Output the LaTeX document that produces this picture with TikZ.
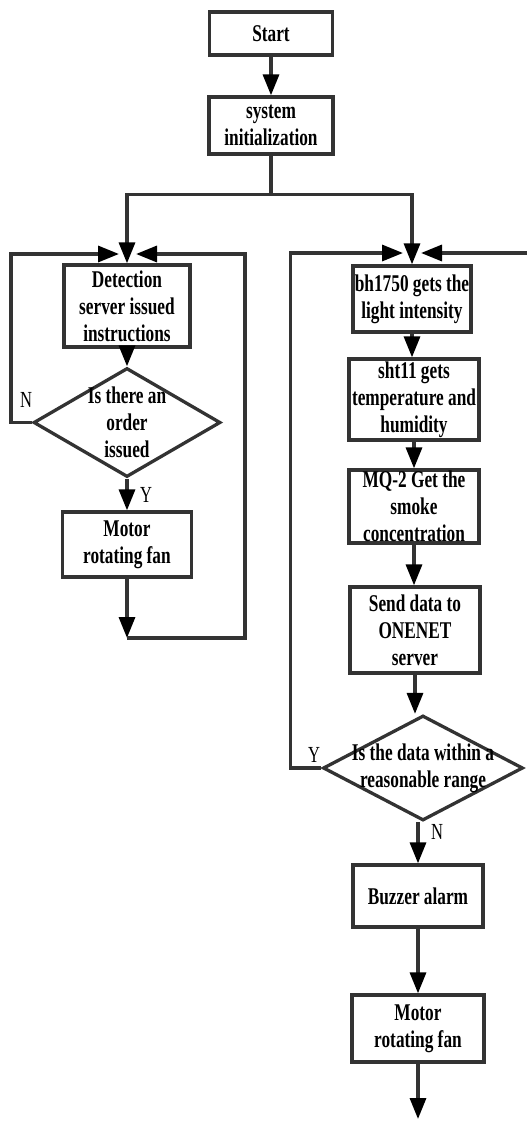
\documentclass[tikz,border=0pt]{standalone}
\usepackage{fontspec}
\setmainfont{Liberation Serif}[FakeStretch=0.72]
\usetikzlibrary{arrows.meta,shapes.geometric}
\tikzset{
  box/.style={rectangle,draw=black!80,line width=3.3pt,align=center,inner sep=1pt,font=\bfseries\fontsize{24}{27}\selectfont},
  decision/.style={diamond,draw=black!80,line width=3.3pt,inner sep=0pt},
  dtext/.style={align=center,inner sep=0pt,font=\bfseries\fontsize{24}{27}\selectfont},
  line/.style={draw=black!80,line width=3.3pt},
  arr/.style={line,-{Triangle[length=21pt,width=16pt,color=black]}},
  yn/.style={font=\fontsize{23}{23}\selectfont,inner sep=0pt}
}

\begin{document}
\begin{tikzpicture}[x=1pt,y=-1pt]
\useasboundingbox (0,0) rectangle (527,1121);
% left column
\node[box,minimum width=123pt,minimum height=43pt] (start) at (271,33.5) {Start};
\node[box,minimum width=124pt,minimum height=57pt] (init) at (271,125.5) {system\\initialization};
\node[box,minimum width=126pt,minimum height=82pt] (det) at (127,306) {Detection\\server issued\\instructions};
\node[decision,minimum width=187pt,minimum height=109pt,label={[dtext]center:Is there an\\order\\issued}] (order) at (127,422.5) {};
\node[box,minimum width=129pt,minimum height=65pt] (fanA) at (127,544.5) {Motor\\rotating fan};
% right column
\node[box,minimum width=118pt,minimum height=66pt] (light) at (412,299) {bh1750 gets the\\light intensity};
\node[box,minimum width=130pt,minimum height=81pt] (temp) at (414,399.5) {sht11 gets\\temperature and\\humidity};
\node[box,minimum width=130pt,minimum height=73pt] (smoke) at (414,506.5) {MQ-2 Get the\\smoke\\concentration};
\node[box,minimum width=130pt,minimum height=86pt] (send) at (415,630) {Send data to\\ONENET\\server};
\node[decision,minimum width=200pt,minimum height=105pt,label={[dtext]center:Is the data within a\\reasonable range}] (range) at (423,768) {};
\node[box,minimum width=130pt,minimum height=62pt] (alarm) at (418,896) {Buzzer alarm};
\node[box,minimum width=132pt,minimum height=67pt] (fanB) at (418,1028.5) {Motor\\rotating fan};

\coordinate (inA) at (119,254);
\coordinate (inB) at (136,254);
\coordinate (botA) at (127,638);
\coordinate (inC) at (403,253);
\coordinate (inD) at (421,253);
\coordinate (rin) at (527,253);
\coordinate (stop) at (418,1119);

\draw[arr] (start) -- (init);
\draw[arr] (init.south) -- ++(0,39) -| (det.north);
\draw[arr] (init.south) -- ++(0,39) -| (light.north);
\draw[arr] (det) -- (order);
\draw[arr] (order.west) -- ++(-21,0) |- (inA);
\node[yn] at (26,400) {N};
\draw[arr] (order.south) -- (fanA.north);
\node[yn] at (146,495) {Y};
\draw[arr] (fanA.south) -- (botA);
\draw[arr] (botA) -- ++(118,0) |- (inB);
\draw[arr] (light.south) -- (light.south |- temp.north);
\draw[arr] (temp) -- (smoke);
\draw[arr] (smoke.south) -- (smoke.south |- send.north);
\draw[arr] (send.south) -- (send.south |- range.north);
\draw[arr] (range.west) -- ++(-31,0) |- (inC);
\node[yn] at (314,755) {Y};
\draw[arr] (rin) -- (inD);
\draw[arr] (range.south -| alarm.north) -- (alarm.north);
\node[yn] at (437,832) {N};
\draw[arr] (alarm) -- (fanB);
\draw[arr] (fanB) -- (stop);
\end{tikzpicture}
\end{document}
